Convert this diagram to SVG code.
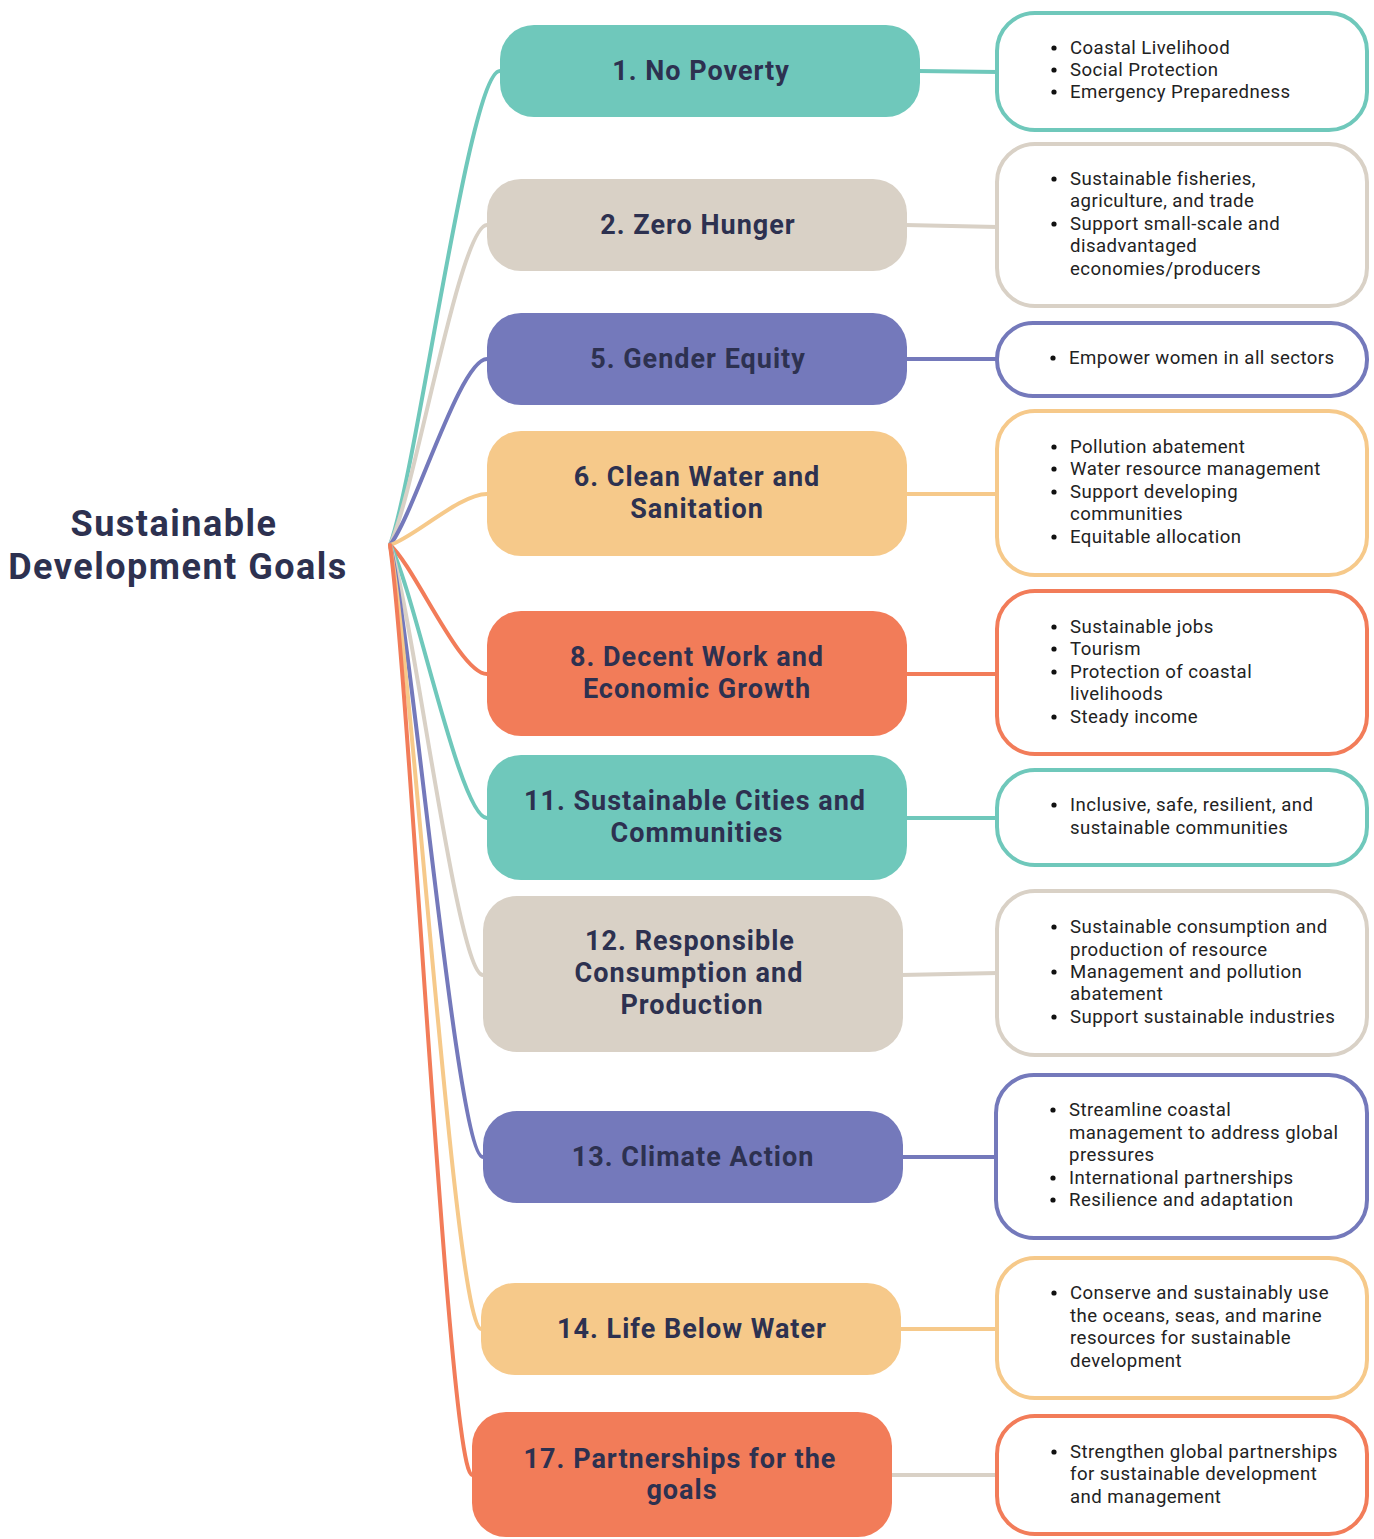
<svg xmlns="http://www.w3.org/2000/svg" width="1374" height="1539" viewBox="0 0 1374 1539">
<style>
.bg{fill:#ffffff}
.c{fill:none;stroke-width:4;stroke-linecap:round}
.teal{fill:#6fc8bb}.beige{fill:#d9d1c6}.purple{fill:#7479bb}.yellow{fill:#f6c98a}.coral{fill:#f27c59}
.steal{stroke:#6fc8bb}.sbeige{stroke:#d9d1c6}.spurple{stroke:#7479bb}.syellow{stroke:#f6c98a}.scoral{stroke:#f27c59}
.box{fill:#ffffff;stroke-width:4}
.nt{font-family:Roboto,"Liberation Sans",sans-serif;font-weight:700;font-size:27px;letter-spacing:1px;fill:#2d3150;text-anchor:middle}
.root{font-family:Roboto,"Liberation Sans",sans-serif;font-weight:700;font-size:36px;letter-spacing:1.5px;fill:#2d3150;text-anchor:middle}
.bt{font-family:Roboto,"Liberation Sans",sans-serif;font-size:18.6px;letter-spacing:0.45px;fill:#222222}
.bu{fill:#111111}
</style>
<rect class="bg" x="0" y="0" width="1374" height="1539"/>
<g id="connectors">
<path class="c steal" d="M390,545 C417.5,469.2 469.2,71 500,71"/>
<path class="c sbeige" d="M390,545 C414.3,493.8 459.8,225 487,225"/>
<path class="c spurple" d="M390,545 C414.3,514.8 459.8,359 487,359"/>
<path class="c syellow" d="M390,545 C414.3,537.4 459.8,494 487,494"/>
<path class="c scoral" d="M390,545 C414.3,565.6 459.8,674 487,674"/>
<path class="c steal" d="M390,545 C414.3,588.7 459.8,818 487,818"/>
<path class="c sbeige" d="M390,545 C413.3,612.2 457,975 483,975"/>
<path class="c spurple" d="M390,545 C413.3,642.9 457,1157 483,1157"/>
<path class="c syellow" d="M390,545 C412.8,670.4 455.5,1329 481,1329"/>
<path class="c scoral" d="M390,545 C410.5,693.8 449,1475 472,1475"/>
<path class="c steal" d="M918,71 L998,72"/>
<path class="c sbeige" d="M905,225 L998,227"/>
<path class="c spurple" d="M905,359 L998,359"/>
<path class="c syellow" d="M905,494 L998,494"/>
<path class="c scoral" d="M905,674 L998,674"/>
<path class="c steal" d="M905,818 L998,818"/>
<path class="c sbeige" d="M901,975 L998,973"/>
<path class="c spurple" d="M901,1157 L998,1157"/>
<path class="c syellow" d="M899,1329 L998,1329"/>
<path class="c sbeige" d="M890,1475 L998,1475"/>
</g>
<g id="root"><text class="root" x="174" y="536">Sustainable</text><text class="root" x="178" y="579">Development Goals</text></g>
<g id="n1"><rect class="teal" x="500" y="25" width="420" height="92" rx="34"/><text class="nt" x="701" y="80">1. No Poverty</text></g>
<g id="n2"><rect class="beige" x="487" y="179" width="420" height="92" rx="34"/><text class="nt" x="698" y="234">2. Zero Hunger</text></g>
<g id="n5"><rect class="purple" x="487" y="313" width="420" height="92" rx="34"/><text class="nt" x="698" y="368">5. Gender Equity</text></g>
<g id="n6"><rect class="yellow" x="487" y="431" width="420" height="125" rx="34"/><text class="nt" x="697" y="486">6. Clean Water and</text><text class="nt" x="697" y="518">Sanitation</text></g>
<g id="n8"><rect class="coral" x="487" y="611" width="420" height="125" rx="34"/><text class="nt" x="697" y="666">8. Decent Work and</text><text class="nt" x="697" y="698">Economic Growth</text></g>
<g id="n11"><rect class="teal" x="487" y="755" width="420" height="125" rx="34"/><text class="nt" x="695" y="810">11. Sustainable Cities and</text><text class="nt" x="697" y="842">Communities</text></g>
<g id="n12"><rect class="beige" x="483" y="896" width="420" height="156" rx="34"/><text class="nt" x="690" y="950">12. Responsible</text><text class="nt" x="689" y="982">Consumption and</text><text class="nt" x="692" y="1014">Production</text></g>
<g id="n13"><rect class="purple" x="483" y="1111" width="420" height="92" rx="34"/><text class="nt" x="693" y="1166">13. Climate Action</text></g>
<g id="n14"><rect class="yellow" x="481" y="1283" width="420" height="92" rx="34"/><text class="nt" x="692" y="1338">14. Life Below Water</text></g>
<g id="n17"><rect class="coral" x="472" y="1412" width="420" height="125" rx="34"/><text class="nt" x="680" y="1468">17. Partnerships for the</text><text class="nt" x="682" y="1499">goals</text></g>
<g id="b1"><rect class="box steal" x="997" y="13" width="370" height="117" rx="38"/>
<circle class="bu" cx="1054" cy="48" r="2.6"/><circle class="bu" cx="1054" cy="70" r="2.6"/><circle class="bu" cx="1054" cy="92" r="2.6"/>
<text class="bt" x="1070" y="54">Coastal Livelihood</text><text class="bt" x="1070" y="76">Social Protection</text><text class="bt" x="1070" y="98">Emergency Preparedness</text></g>
<g id="b2"><rect class="box sbeige" x="997" y="144" width="370" height="162" rx="38"/>
<circle class="bu" cx="1054" cy="179" r="2.6"/><circle class="bu" cx="1054" cy="224" r="2.6"/>
<text class="bt" x="1070" y="185">Sustainable fisheries,</text><text class="bt" x="1070" y="207">agriculture, and trade</text><text class="bt" x="1070" y="230">Support small-scale and</text><text class="bt" x="1070" y="252">disadvantaged</text><text class="bt" x="1070" y="275">economies/producers</text></g>
<g id="b5"><rect class="box spurple" x="997" y="323" width="370" height="73" rx="36"/>
<circle class="bu" cx="1053" cy="358" r="2.6"/>
<text class="bt" x="1069" y="364">Empower women in all sectors</text></g>
<g id="b6"><rect class="box syellow" x="997" y="411" width="370" height="164" rx="38"/>
<circle class="bu" cx="1054" cy="447" r="2.6"/><circle class="bu" cx="1054" cy="469" r="2.6"/><circle class="bu" cx="1054" cy="492" r="2.6"/><circle class="bu" cx="1054" cy="537" r="2.6"/>
<text class="bt" x="1070" y="453">Pollution abatement</text><text class="bt" x="1070" y="475">Water resource management</text><text class="bt" x="1070" y="498">Support developing</text><text class="bt" x="1070" y="520">communities</text><text class="bt" x="1070" y="543">Equitable allocation</text></g>
<g id="b8"><rect class="box scoral" x="997" y="591" width="370" height="163" rx="38"/>
<circle class="bu" cx="1054" cy="627" r="2.6"/><circle class="bu" cx="1054" cy="649" r="2.6"/><circle class="bu" cx="1054" cy="672" r="2.6"/><circle class="bu" cx="1054" cy="717" r="2.6"/>
<text class="bt" x="1070" y="633">Sustainable jobs</text><text class="bt" x="1070" y="655">Tourism</text><text class="bt" x="1070" y="678">Protection of coastal</text><text class="bt" x="1070" y="700">livelihoods</text><text class="bt" x="1070" y="723">Steady income</text></g>
<g id="b11"><rect class="box steal" x="997" y="770" width="370" height="95" rx="38"/>
<circle class="bu" cx="1054" cy="805" r="2.6"/>
<text class="bt" x="1070" y="811">Inclusive, safe, resilient, and</text><text class="bt" x="1070" y="834">sustainable communities</text></g>
<g id="b12"><rect class="box sbeige" x="997" y="891" width="370" height="164" rx="38"/>
<circle class="bu" cx="1054" cy="927" r="2.6"/><circle class="bu" cx="1054" cy="972" r="2.6"/><circle class="bu" cx="1054" cy="1017" r="2.6"/>
<text class="bt" x="1070" y="933">Sustainable consumption and</text><text class="bt" x="1070" y="956">production of resource</text><text class="bt" x="1070" y="978">Management and pollution</text><text class="bt" x="1070" y="1000">abatement</text><text class="bt" x="1070" y="1023">Support sustainable industries</text></g>
<g id="b13"><rect class="box spurple" x="996" y="1075" width="371" height="163" rx="38"/>
<circle class="bu" cx="1053" cy="1110" r="2.6"/><circle class="bu" cx="1053" cy="1178" r="2.6"/><circle class="bu" cx="1053" cy="1200" r="2.6"/>
<text class="bt" x="1069" y="1116">Streamline coastal</text><text class="bt" x="1069" y="1139">management to address global</text><text class="bt" x="1069" y="1161">pressures</text><text class="bt" x="1069" y="1184">International partnerships</text><text class="bt" x="1069" y="1206">Resilience and adaptation</text></g>
<g id="b14"><rect class="box syellow" x="997" y="1258" width="370" height="140" rx="38"/>
<circle class="bu" cx="1054" cy="1293" r="2.6"/>
<text class="bt" x="1070" y="1299">Conserve and sustainably use</text><text class="bt" x="1070" y="1322">the oceans, seas, and marine</text><text class="bt" x="1070" y="1344">resources for sustainable</text><text class="bt" x="1070" y="1367">development</text></g>
<g id="b17"><rect class="box scoral" x="997" y="1416" width="370" height="118" rx="38"/>
<circle class="bu" cx="1054" cy="1452" r="2.6"/>
<text class="bt" x="1070" y="1458">Strengthen global partnerships</text><text class="bt" x="1070" y="1480">for sustainable development</text><text class="bt" x="1070" y="1503">and management</text></g>
</svg>
